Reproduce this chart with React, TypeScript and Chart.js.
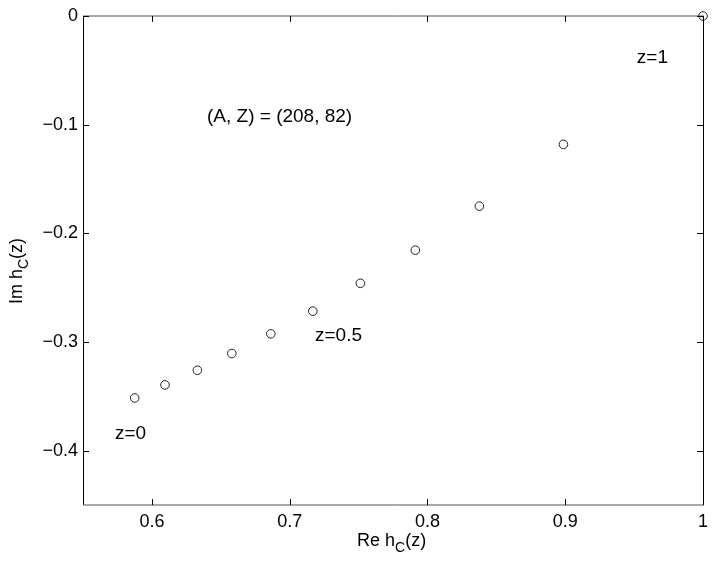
import React, { useEffect, useRef } from "react";
import { Chart, registerables } from "chart.js";

Chart.register(...registerables);

const reValues = [0.5875, 0.6095, 0.633, 0.658, 0.6863, 0.7168, 0.7513, 0.7912, 0.8377, 0.8987, 1.0];
const imValues = [-0.3515, -0.3395, -0.326, -0.3106, -0.2925, -0.2716, -0.246, -0.2155, -0.175, -0.1181, 0];

const xTicks = [0.6, 0.7, 0.8, 0.9, 1];
const xTickLabels = ["0.6", "0.7", "0.8", "0.9", "1"];
const yTicks = [0, -0.1, -0.2, -0.3, -0.4];
const yTickLabels = ["0", "\u22120.1", "\u22120.2", "\u22120.3", "\u22120.4"];

const noteTexts = ["(A, Z) = (208, 82)", "z=1", "z=0.5", "z=0"];
const noteX = [0.64, 0.952, 0.7184, 0.5732];
const noteY = [-0.0971, -0.0433, -0.2993, -0.3889];

const FONT = "'Liberation Sans', Arial, Helvetica, sans-serif";

function drawSubLabel(ctx: CanvasRenderingContext2D, parts: [string, string, string], size: number, subSize: number) {
  let x = 0;
  ctx.font = `${size}px ${FONT}`;
  ctx.fillText(parts[0], x, 0);
  x += ctx.measureText(parts[0]).width;
  ctx.font = `${subSize}px ${FONT}`;
  ctx.fillText(parts[1], x, 6);
  x += ctx.measureText(parts[1]).width;
  ctx.font = `${size}px ${FONT}`;
  ctx.fillText(parts[2], x, 0);
}

const decorPlugin = {
  id: "decor",
  afterDraw(chart: any) {
    const ctx: CanvasRenderingContext2D = chart.ctx;
    const { left, right, top, bottom } = chart.chartArea;
    const xs = chart.scales.x;
    const ys = chart.scales.y;
    ctx.save();
    ctx.lineWidth = 1;
    ctx.strokeStyle = "#000";
    ctx.beginPath();
    ctx.moveTo(Math.round(left) + 0.5, top);
    ctx.lineTo(Math.round(left) + 0.5, bottom);
    ctx.moveTo(Math.round(right) + 0.5, top);
    ctx.lineTo(Math.round(right) + 0.5, bottom);
    ctx.stroke();
    ctx.strokeStyle = "#555";
    ctx.beginPath();
    ctx.moveTo(left, Math.round(top));
    ctx.lineTo(right + 1, Math.round(top));
    ctx.moveTo(left, Math.round(bottom));
    ctx.lineTo(right + 1, Math.round(bottom));
    ctx.stroke();
    const tl = 6;
    ctx.strokeStyle = "#000";
    ctx.beginPath();
    xTicks.forEach((v) => {
      const px = Math.round(xs.getPixelForValue(v)) + 0.5;
      ctx.moveTo(px, bottom);
      ctx.lineTo(px, bottom - tl);
      ctx.moveTo(px, top);
      ctx.lineTo(px, top + tl);
    });
    yTicks.forEach((v) => {
      const py = Math.round(ys.getPixelForValue(v)) + 0.5;
      ctx.moveTo(left, py);
      ctx.lineTo(left + tl, py);
      ctx.moveTo(right, py);
      ctx.lineTo(right - tl, py);
    });
    ctx.stroke();
    ctx.fillStyle = "#000";
    ctx.textAlign = "left";
    ctx.textBaseline = "alphabetic";
    ctx.font = `19px ${FONT}`;
    noteTexts.forEach((t, i) => {
      ctx.fillText(t, xs.getPixelForValue(noteX[i]), ys.getPixelForValue(noteY[i]));
    });
    ctx.save();
    ctx.translate(357, 546);
    drawSubLabel(ctx, ["Re h", "C", "(z)"], 18, 14);
    ctx.restore();
    ctx.save();
    ctx.translate(22, 304);
    ctx.rotate(-Math.PI / 2);
    drawSubLabel(ctx, ["Im h", "C", "(z)"], 18, 14);
    ctx.restore();
    ctx.restore();
  },
};

export default function App() {
  const ref = useRef<HTMLCanvasElement | null>(null);
  useEffect(() => {
    if (!ref.current) return;
    const chart = new Chart(ref.current, {
      type: "scatter",
      data: {
        datasets: [
          {
            data: reValues.map((x, i) => ({ x, y: imValues[i] })),
            pointStyle: "circle",
            pointRadius: 4.3,
            pointHoverRadius: 4.3,
            pointBorderWidth: 1,
            pointBorderColor: "#222",
            pointBackgroundColor: "rgba(0,0,0,0)",
            showLine: false,
            clip: false as any,
          },
        ],
      },
      options: {
        animation: false,
        responsive: false,
        events: [],
        layout: { padding: { top: 16, right: 14, left: 0, bottom: 0 } },
        plugins: { legend: { display: false }, tooltip: { enabled: false } },
        scales: {
          x: {
            type: "linear",
            min: 0.55,
            max: 1,
            grid: { display: false, drawTicks: false },
            border: { display: false },
            afterBuildTicks: (s: any) => {
              s.ticks = xTicks.map((v) => ({ value: v }));
            },
            afterFit: (s: any) => {
              s.height = 59;
            },
            ticks: {
              padding: 6,
              color: "#000",
              font: { family: FONT, size: 18 },
              maxRotation: 0,
              autoSkip: false,
              callback: (v: any) => {
                const i = xTicks.findIndex((t) => Math.abs(t - Number(v)) < 1e-9);
                return i >= 0 ? xTickLabels[i] : "";
              },
            },
          },
          y: {
            type: "linear",
            min: -0.45,
            max: 0,
            grid: { display: false, drawTicks: false },
            border: { display: false },
            afterBuildTicks: (s: any) => {
              s.ticks = yTicks.map((v) => ({ value: v }));
            },
            afterFit: (s: any) => {
              s.width = 83;
            },
            ticks: {
              padding: 5,
              color: "#000",
              font: { family: FONT, size: 18 },
              autoSkip: false,
              callback: (v: any) => {
                const i = yTicks.findIndex((t) => Math.abs(t - Number(v)) < 1e-9);
                return i >= 0 ? yTickLabels[i] : "";
              },
            },
          },
        },
      },
      plugins: [decorPlugin],
    });
    return () => chart.destroy();
  }, []);
  return (
    <div style={{ position: "absolute", left: 0, top: 0, width: 717, height: 564, background: "#fff" }}>
      <canvas ref={ref} width={717} height={564} />
    </div>
  );
}
